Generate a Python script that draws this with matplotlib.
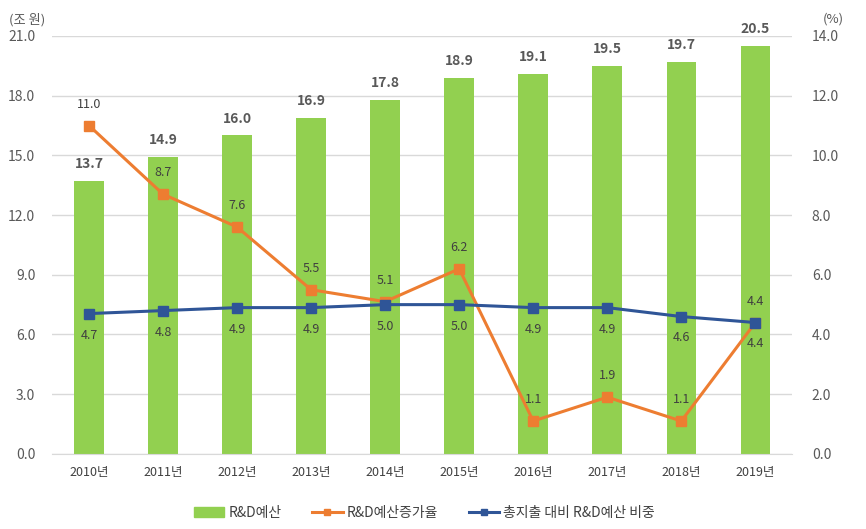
import numpy as np
import matplotlib.pyplot as plt
from matplotlib.lines import Line2D
from matplotlib.patches import Patch

plt.rcParams['font.family'] = ['Noto Sans CJK KR', 'DejaVu Sans']

years = ["2010년", "2011년", "2012년", "2013년", "2014년",
         "2015년", "2016년", "2017년", "2018년", "2019년"]
budget = [13.7, 14.9, 16.0, 16.9, 17.8, 18.9, 19.1, 19.5, 19.7, 20.5]
growth = [11.0, 8.7, 7.6, 5.5, 5.1, 6.2, 1.1, 1.9, 1.1, 4.4]
share = [4.7, 4.8, 4.9, 4.9, 5.0, 5.0, 4.9, 4.9, 4.6, 4.4]

green = "#92D050"
orange = "#ED7D31"
blue = "#2F5597"
txt = "#595959"
dark = "#404040"

fig = plt.figure(figsize=(8.66, 5.29), dpi=100)
ax = fig.add_axes([0.060, 0.142, 0.855, 0.790])
ax2 = ax.twinx()

x = np.arange(len(years))
ax.bar(x, budget, width=0.4, color=green, zorder=2)
for i, v in enumerate(budget):
    ax.text(i, v + 0.5, f"{v:.1f}", ha="center", va="bottom",
            fontsize=10, fontweight="bold", color=txt)

ax.set_ylim(0, 21)
ax.set_yticks(np.arange(0, 21.1, 3))
ax.set_yticklabels([f"{v:.1f}" for v in np.arange(0, 21.1, 3)])
ax.set_xlim(-0.5, 9.5)
ax.set_xticks(x)
ax.set_xticklabels(years)
ax.grid(axis="y", color="#D9D9D9", linewidth=1, zorder=0)
ax.set_axisbelow(True)

ax2.plot(x, growth, color=orange, linewidth=2.2, marker="s", markersize=6.5, zorder=3)
ax2.plot(x, share, color=blue, linewidth=2.2, marker="s", markersize=6.5, zorder=4)

# growth labels above the points, except 2019 which sits below
for i, v in enumerate(growth):
    if i == len(growth) - 1:
        ax2.text(i, v - 0.5, f"{v:.1f}", ha="center", va="top", fontsize=9, color=dark)
    else:
        ax2.text(i, v + 0.5, f"{v:.1f}", ha="center", va="bottom", fontsize=9, color=dark)
# share labels below, except 2019 which sits above
for i, v in enumerate(share):
    if i == len(share) - 1:
        ax2.text(i, v + 0.5, f"{v:.1f}", ha="center", va="bottom", fontsize=9, color=dark)
    else:
        ax2.text(i, v - 0.5, f"{v:.1f}", ha="center", va="top", fontsize=9, color=dark)

ax2.set_ylim(0, 14)
ax2.set_yticks(np.arange(0, 14.1, 2))
ax2.set_yticklabels([f"{v:.1f}" for v in np.arange(0, 14.1, 2)])

for a in (ax, ax2):
    for s in a.spines.values():
        s.set_visible(False)
    a.tick_params(length=0, labelsize=10, colors=txt)
ax.tick_params(axis="x", labelsize=9, colors=dark, pad=9)
ax.tick_params(axis="y", pad=12)
ax2.tick_params(axis="y", pad=14)
ax.spines["bottom"].set_visible(True)
ax.spines["bottom"].set_color("#D9D9D9")

fig.text(0.010, 0.955, "(조 원)", fontsize=9.5, color=txt)
fig.text(0.950, 0.958, "(%)", fontsize=9.5, color=txt)

handles = [Patch(color=green),
           Line2D([], [], color=orange, linewidth=2.2, marker="s", markersize=5),
           Line2D([], [], color=blue, linewidth=2.2, marker="s", markersize=5)]
labels = ["R&D예산", "R&D예산증가율", "총지출 대비 R&D예산 비중"]
fig.legend(handles, labels, loc="center", bbox_to_anchor=(0.49, 0.03), ncol=3,
           frameon=False, fontsize=10, labelcolor=dark, handlelength=2.2,
           columnspacing=2.2, handletextpad=0.3)

fig.savefig("out.png", dpi=100)
